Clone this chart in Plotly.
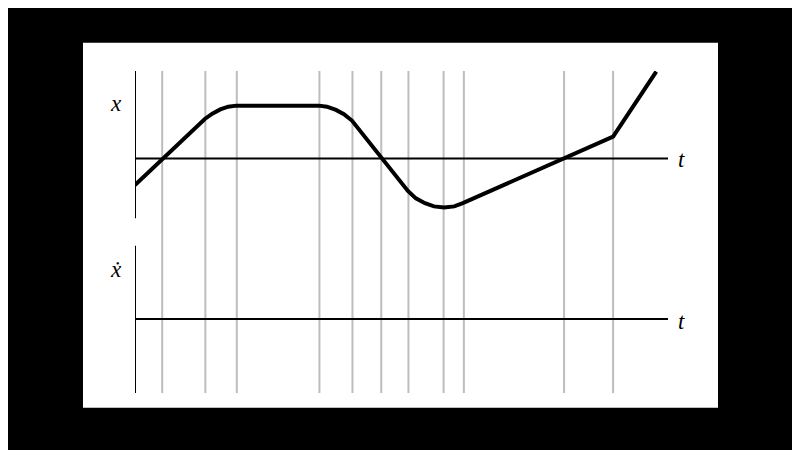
import plotly.graph_objects as go

# Position curve x(t)
t_vals = [0.00, 1.22, 1.31, 1.45, 1.60, 1.75, 1.90, 3.45, 3.60, 3.77, 3.92, 4.07,
          5.12, 5.27, 5.44, 5.61, 5.80, 5.99, 6.15, 8.97, 9.78]
x_vals = [-0.50, 0.67, 0.74, 0.84, 0.92, 0.97, 0.99, 0.99, 0.97, 0.91, 0.83, 0.71,
          -0.61, -0.75, -0.84, -0.90, -0.92, -0.90, -0.84, 0.41, 1.63]

# Event times (gray vertical lines)
event_t = [0.51, 1.32, 1.91, 3.46, 4.08, 4.62, 5.13, 5.79, 6.17, 8.05, 8.97]

t_end = 10.0
top_range = [-1.126, 1.640]
bot_range = [-1.388, 1.381]

fig = go.Figure()
fig.add_trace(go.Scatter(x=t_vals, y=x_vals, mode="lines",
                         line=dict(color="black", width=4),
                         xaxis="x", yaxis="y", hoverinfo="skip"))
fig.add_trace(go.Scatter(x=[0, t_end], y=[0, 0], mode="lines",
                         line=dict(color="black", width=2),
                         xaxis="x", yaxis="y2", hoverinfo="skip"))

shapes = []
shapes.append(dict(type="rect", xref="paper", yref="paper",
                   x0=-0.0976, x1=1.0938, y0=-0.0457, y1=1.088,
                   fillcolor="white", line=dict(width=0), layer="below"))
for et in event_t:
    shapes.append(dict(type="line", xref="x", yref="paper", x0=et, x1=et, y0=0, y1=1,
                       line=dict(color="#bdbdbd", width=2), layer="below"))
shapes.append(dict(type="line", xref="x", yref="y", x0=0, x1=0,
                   y0=top_range[0], y1=top_range[1], line=dict(color="black", width=2)))
shapes.append(dict(type="line", xref="x", yref="y", x0=0, x1=t_end,
                   y0=0, y1=0, line=dict(color="black", width=2)))
shapes.append(dict(type="line", xref="x", yref="y2", x0=0, x1=0,
                   y0=bot_range[0], y1=bot_range[1], line=dict(color="black", width=2)))

font = dict(family="Liberation Serif", size=23, color="black")
annotations = [
    dict(text="<i>x</i>", x=-0.0356, y=0.900, xref="paper", yref="paper", showarrow=False,
         xanchor="center", yanchor="middle", font=font),
    dict(text="<i>ẋ</i>", x=-0.0356, y=0.383, xref="paper", yref="paper", showarrow=False,
         xanchor="center", yanchor="middle", font=font),
    dict(text="<i>t</i>", x=1.0257, y=0.7245, xref="paper", yref="paper", showarrow=False,
         xanchor="center", yanchor="middle", font=font),
    dict(text="<i>t</i>", x=1.0257, y=0.2214, xref="paper", yref="paper", showarrow=False,
         xanchor="center", yanchor="middle", font=font),
]

fig.update_layout(
    width=800, height=450,
    margin=dict(l=127, r=140, t=63, b=65),
    paper_bgcolor="black", plot_bgcolor="rgba(0,0,0,0)",
    showlegend=False,
    xaxis=dict(range=[0, t_end], visible=False, fixedrange=True),
    yaxis=dict(domain=[0.5422, 1], range=top_range, visible=False, fixedrange=True),
    yaxis2=dict(domain=[0, 0.4584], range=bot_range, visible=False, fixedrange=True),
    shapes=shapes, annotations=annotations,
)

fig.write_html("out.html", config={"displayModeBar": False})
